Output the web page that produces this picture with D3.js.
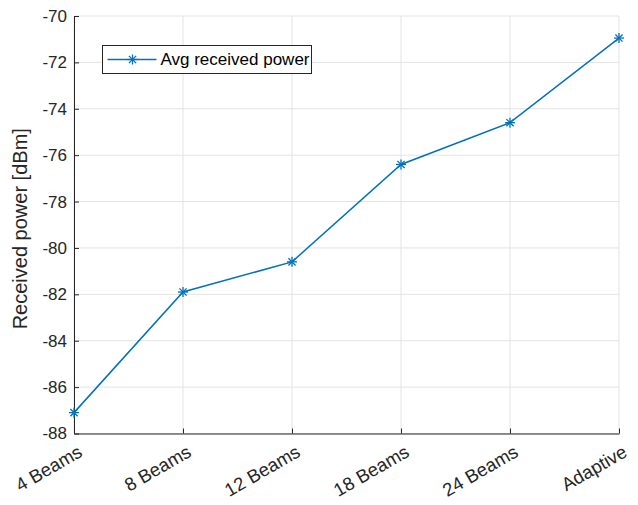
<!DOCTYPE html>
<html>
<head>
<meta charset="utf-8">
<script src="https://cdn.jsdelivr.net/npm/d3@7"></script>
<style>
  body { margin: 0; background: #fff; }
  text { font-family: "Liberation Sans", Arial, sans-serif; }
</style>
</head>
<body>
<div id="chart"></div>
<script>
let categories = ["4 Beams", "8 Beams", "12 Beams", "18 Beams", "24 Beams", "Adaptive"];
let powerValues = [-87.1, -81.9, -80.6, -76.4, -74.6, -70.95];
let yTicks = [-88, -86, -84, -82, -80, -78, -76, -74, -72, -70];
let seriesName = "Avg received power";

let margin = {top: 16, right: 19, bottom: 71.5, left: 74},
    width = 638 - margin.left - margin.right,
    height = 505 - margin.top - margin.bottom;

let svg = d3.select("#chart")
  .append("svg")
    .attr("width", 638)
    .attr("height", 505)
  .append("g")
    .attr("transform", "translate(" + margin.left + "," + margin.top + ")");

let x = d3.scalePoint()
    .domain(categories)
    .range([0, width]);

let y = d3.scaleLinear()
    .domain([-88, -70])
    .range([height, 0]);

// grid
svg.append("g")
    .selectAll("line")
    .data(categories)
    .enter()
    .append("line")
    .attr("x1", d => x(d)).attr("x2", d => x(d))
    .attr("y1", 0).attr("y2", height)
    .attr("stroke", "#e3e3e3");

svg.append("g")
    .selectAll("line")
    .data(yTicks)
    .enter()
    .append("line")
    .attr("x1", 0).attr("x2", width)
    .attr("y1", d => y(d)).attr("y2", d => y(d))
    .attr("stroke", "#e3e3e3");

// axes
let xAxis = svg.append("g")
    .attr("transform", "translate(0," + height + ")")
    .call(d3.axisBottom(x).tickSizeInner(-5).tickSizeOuter(0));

// rotated labels, end of baseline sits just below-right of the tick
xAxis.selectAll(".tick text")
    .attr("font-size", "18.5px")
    .attr("fill", "#262626")
    .attr("text-anchor", "end")
    .attr("x", 0)
    .attr("y", 0)
    .attr("dy", null)
    .attr("transform", "translate(9,22) rotate(-30)");

let yAxis = svg.append("g")
    .call(d3.axisLeft(y).tickValues(yTicks).tickSizeInner(-5).tickSizeOuter(0).tickPadding(7)
      .tickFormat(d => d3.format("d")(d).replace("−", "-")));

yAxis.selectAll("text")
    .attr("font-size", "17px")
    .attr("fill", "#262626");

svg.selectAll(".domain").attr("stroke", "#262626");
svg.selectAll(".tick line").attr("stroke", "#262626");

// y label
svg.append("text")
    .attr("transform", "translate(-47," + (height / 2 + 4) + ") rotate(-90)")
    .attr("text-anchor", "middle")
    .attr("font-size", "20px")
    .attr("fill", "#262626")
    .text("Received power [dBm]");

// line
let blue = "#0072BD";
let line = d3.line()
    .x((d, i) => x(categories[i]))
    .y(d => y(d));

svg.append("path")
    .datum(powerValues)
    .attr("d", line)
    .attr("fill", "none")
    .attr("stroke", blue)
    .attr("stroke-width", 1.5);

function star(g, cx, cy, r) {
  let a = r * 0.72;
  let segs = [[-r, 0, r, 0], [0, -r, 0, r], [-a, -a, a, a], [-a, a, a, -a]];
  segs.forEach(s => {
    g.append("line")
      .attr("x1", cx + s[0]).attr("y1", cy + s[1])
      .attr("x2", cx + s[2]).attr("y2", cy + s[3])
      .attr("stroke", blue)
      .attr("stroke-width", 1.3);
  });
}

let markers = svg.append("g");
powerValues.forEach((v, i) => star(markers, x(categories[i]), y(v), 5));

// legend
let legend = svg.append("g")
    .attr("transform", "translate(" + (102.5 - margin.left) + "," + (45.5 - margin.top) + ")");

legend.append("rect")
    .attr("width", 209)
    .attr("height", 28)
    .attr("fill", "#fff")
    .attr("stroke", "#262626")
    .attr("stroke-width", 1);

legend.append("line")
    .attr("x1", 5).attr("x2", 54)
    .attr("y1", 14).attr("y2", 14)
    .attr("stroke", blue)
    .attr("stroke-width", 1.5);
star(legend, 30, 14, 5);

legend.append("text")
    .attr("x", 58)
    .attr("y", 14)
    .attr("dy", "0.35em")
    .attr("font-size", "17px")
    .attr("fill", "#000")
    .text(seriesName);
</script>
</body>
</html>
